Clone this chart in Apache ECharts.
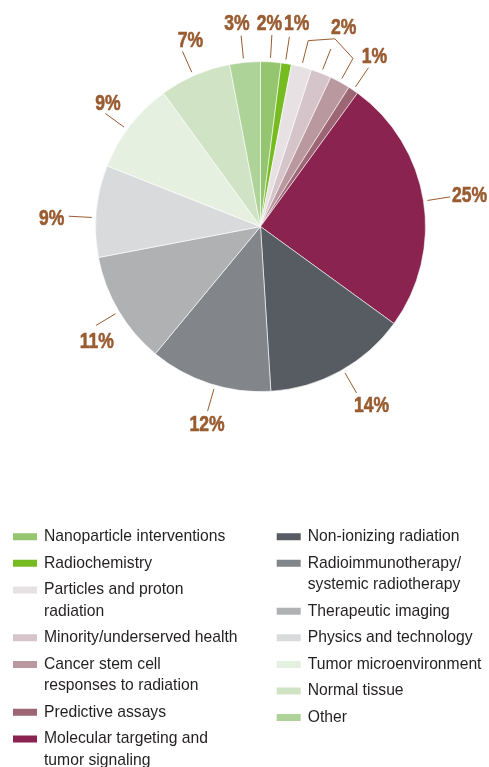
<!DOCTYPE html>
<html>
<head>
<meta charset="utf-8">
<script src="https://cdn.jsdelivr.net/npm/echarts@6/dist/echarts.min.js"></script>
<style>
  html, body { margin: 0; padding: 0; background: #fff; }
  #chart { width: 489px; height: 767px; }
</style>
</head>
<body>
<div id="chart"></div>
<script>
// Research topic shares (%)
const categories = [
  'Nanoparticle interventions',
  'Radiochemistry',
  'Particles and proton\nradiation',
  'Minority/underserved health',
  'Cancer stem cell\nresponses to radiation',
  'Predictive assays',
  'Molecular targeting and\ntumor signaling',
  'Non-ionizing radiation',
  'Radioimmunotherapy/\nsystemic radiotherapy',
  'Therapeutic imaging',
  'Physics and technology',
  'Tumor microenvironment',
  'Normal tissue',
  'Other'
];
const shares = [2, 1, 2, 2, 2, 1, 25, 14, 12, 11, 9, 9, 7, 3];

// Slices that share a single bracketed callout
const bracketGroup = [2, 3, 4];

// Legend columns
const legendColumnA = categories.slice(0, 7);
const legendColumnB = categories.slice(7);

const sliceColors = [
  '#95c66f', '#76bc21', '#e8e1e4', '#d5c5ca', '#b9989f', '#9d6675', '#8a2350',
  '#575c63', '#828589', '#b0b1b3', '#d9dadc', '#e5f0e0', '#d0e3c5', '#add399'
];

const CX = 260.5, CY = 226.6, R = 165;
const LINE_R1 = 169, LINE_R2 = 192, APEX_R = 202;
const CALLOUT_COLOR = '#995b30';
const CALLOUT_FONT = 'bold 22.5px "Liberation Sans", Arial, sans-serif';
const CALLOUT_SQUEEZE = 0.78;
const TEXT_FONT = '"Liberation Sans", Arial, sans-serif';

// Leader-line angle nudge (deg) and text offset from the line's outer end
const calloutPlacement = {
  0:  { turn: -0.2, dx: -2.4, dy: -10.9, align: 'center' },
  1:  { turn: -0.35, dx: 7.3, dy: -12.8, align: 'center' },
  5:  { turn: 0,    dx: 6.1,  dy: -10.8, align: 'center' },
  6:  { turn: 0.1,  dx: 1.7,  dy: -0.9,  align: 'left' },
  7:  { turn: -1.2, dx: -2.5, dy: 13.1,  align: 'left' },
  8:  { turn: -2,   dx: -0.6, dy: 13.8,  align: 'center' },
  9:  { turn: -0.4, dx: 0.8,  dy: 16,    align: 'center' },
  10: { turn: -2.3, dx: -4.5, dy: 2.3,   align: 'right' },
  11: { turn: -1.7, dx: 2.6,  dy: -9.5,  align: 'center' },
  12: { turn: -0.6, dx: 8.1,  dy: -10.7, align: 'center' },
  13: { turn: -0.4, dx: -4.1, dy: -11.6, align: 'center' }
};
const bracketTextOffset = { dx: 8.7, dy: -10.5 };

const total = shares.reduce((a, b) => a + b, 0);
const midAngles = [];
{
  let acc = 0;
  shares.forEach(v => {
    midAngles.push((acc + v / 2) / total * 360);
    acc += v;
  });
}
function polar(r, deg) {
  const a = deg * Math.PI / 180;
  return [CX + r * Math.sin(a), CY - r * Math.cos(a)];
}
function calloutText(x, y, text, align) {
  return {
    type: 'text', silent: true,
    x: x, y: y, scaleX: CALLOUT_SQUEEZE,
    style: {
      text: text, x: 0, y: 0, fill: CALLOUT_COLOR, font: CALLOUT_FONT,
      stroke: CALLOUT_COLOR, lineWidth: 0.6,
      align: align, textAlign: align, verticalAlign: 'middle', textVerticalAlign: 'middle'
    }
  };
}
function leader(points) {
  return {
    type: 'polyline', silent: true,
    shape: { points: points },
    style: { stroke: CALLOUT_COLOR, lineWidth: 1, fill: null }
  };
}

const graphics = [];
shares.forEach((v, i) => {
  if (bracketGroup.indexOf(i) >= 0) return;
  const o = calloutPlacement[i];
  const ang = midAngles[i] + o.turn;
  const p1 = polar(LINE_R1, ang);
  const p2 = polar(LINE_R2, ang);
  graphics.push(leader([p1, p2]));
  graphics.push(calloutText(p2[0] + o.dx, p2[1] + o.dy, v + '%', o.align));
});
// Bracket joining the three small slices
{
  const first = bracketGroup[0], mid = bracketGroup[1], last = bracketGroup[bracketGroup.length - 1];
  const apex = polar(APEX_R, midAngles[mid]);
  graphics.push(leader([
    polar(LINE_R1, midAngles[first]), polar(LINE_R2, midAngles[first]), apex,
    polar(LINE_R2, midAngles[last]), polar(LINE_R1, midAngles[last])
  ]));
  graphics.push(leader([polar(LINE_R1, midAngles[mid]), polar(LINE_R2 - 1, midAngles[mid])]));
  graphics.push(calloutText(apex[0] + bracketTextOffset.dx, apex[1] + bracketTextOffset.dy,
    shares[mid] + '%', 'center'));
}

// One legend block per entry; wrapped names get a blank leading line so the
// swatch lines up with the first line of text
const LEG_LH = 21.3, LEG_ROW = 26.6, LEG_TOP = 536.7;
const SWATCH_ICON = 'path://M0 0H24V7H0Z M26 0L26 0.01';
function legendBlocks(names, left) {
  let yc = LEG_TOP;
  return names.map(name => {
    const n = name.split('\n').length;
    const block = {
      data: [name], left: left, top: yc - (2 * n - 1) * LEG_LH / 2,
      orient: 'vertical', padding: 0, icon: SWATCH_ICON,
      itemWidth: 26, itemHeight: 7, selectedMode: false,
      itemStyle: { borderWidth: 0 },
      formatter: nm => '\n'.repeat(n - 1) + nm,
      textStyle: {
        fontFamily: TEXT_FONT, fontSize: 15.7, lineHeight: LEG_LH, color: '#231f20'
      }
    };
    yc += LEG_ROW + (n - 1) * LEG_LH;
    return block;
  });
}

const chart = echarts.init(document.getElementById('chart'), null, { renderer: 'canvas' });
chart.setOption({
  animation: false,
  backgroundColor: '#fff',
  legend: legendBlocks(legendColumnA, 13).concat(legendBlocks(legendColumnB, 276.7)),
  series: [{
    type: 'pie',
    center: [CX, CY],
    radius: R,
    startAngle: 90,
    clockwise: true,
    label: { show: false },
    labelLine: { show: false },
    emphasis: { disabled: true },
    itemStyle: { borderColor: '#ffffff', borderWidth: 0.6 },
    data: categories.map((name, i) => ({
      name: name, value: shares[i], itemStyle: { color: sliceColors[i] }
    }))
  }],
  graphic: graphics
});
</script>
</body>
</html>
